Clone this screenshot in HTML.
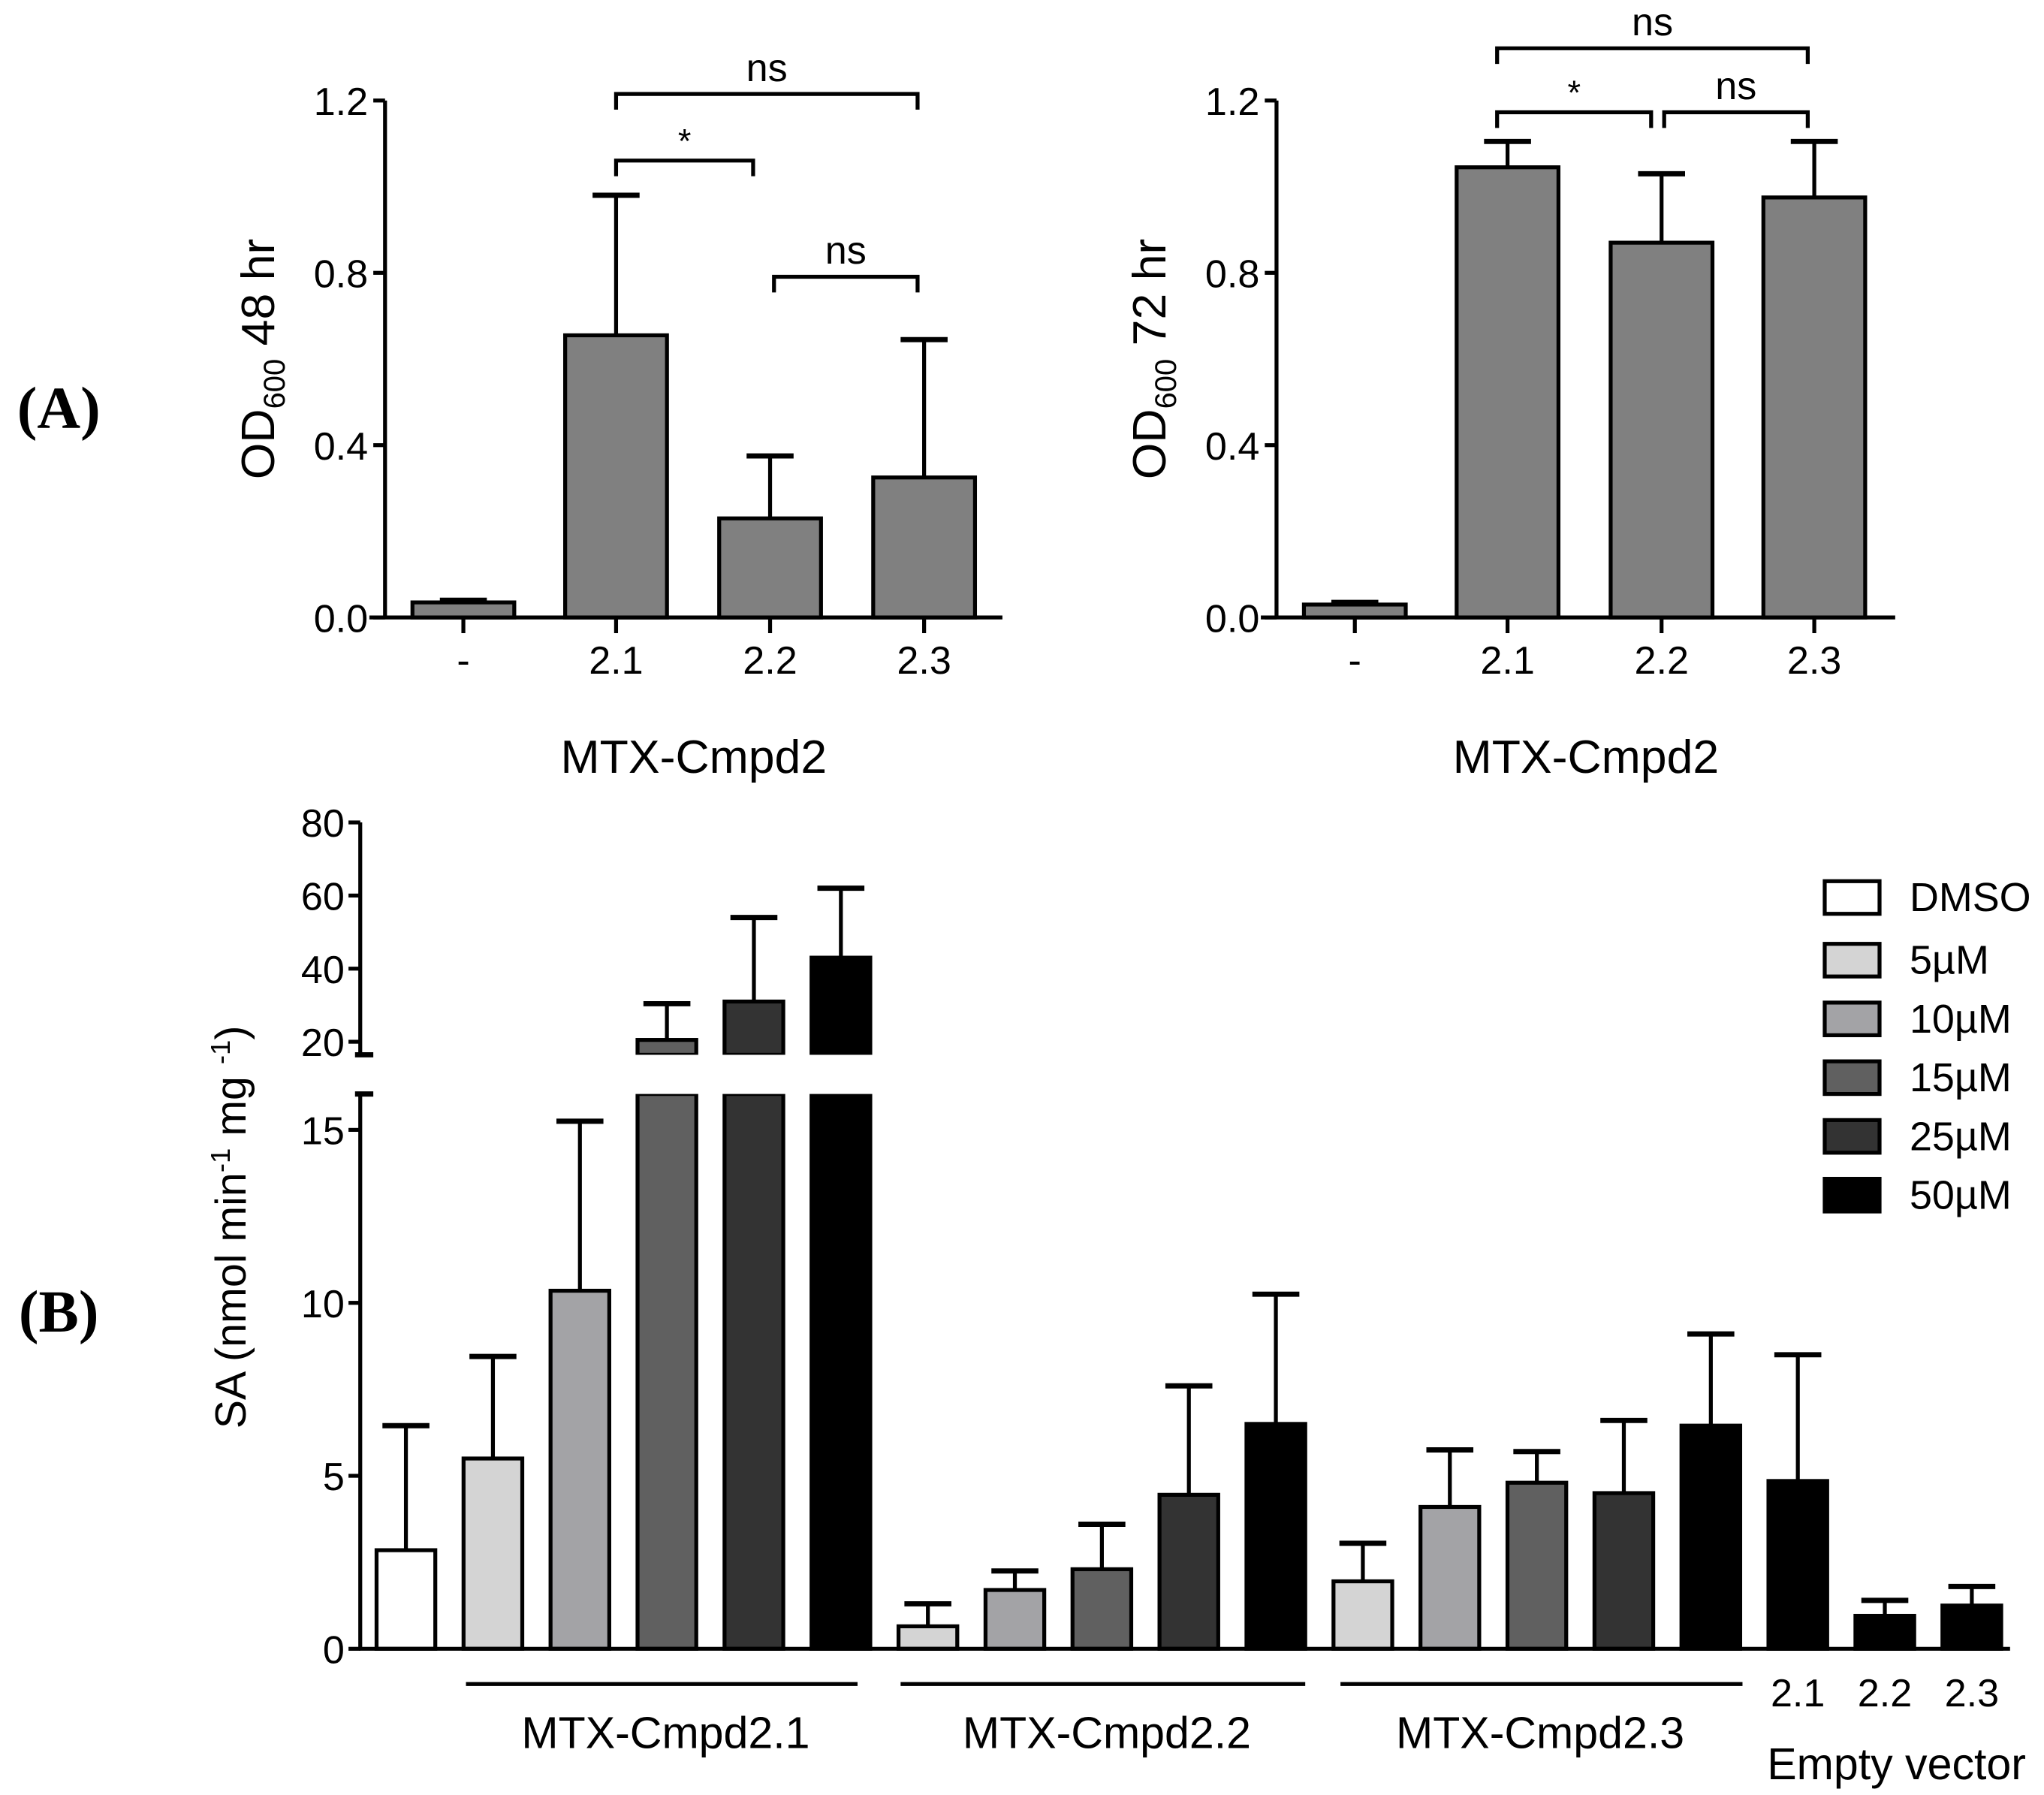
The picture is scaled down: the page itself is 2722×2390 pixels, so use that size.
<!DOCTYPE html>
<html><head><meta charset="utf-8"><style>
html,body{margin:0;padding:0;background:#fff;}
svg{display:block;}
text{font-family:"Liberation Sans",sans-serif;fill:#000;}
</style></head><body>
<svg id="fig" width="2722" height="2390" viewBox="0 0 1566 1375" preserveAspectRatio="none" xmlns="http://www.w3.org/2000/svg">
<g id="A1"></g>
<g id="A2"></g>
<g id="B"></g>
<text x="45" y="328" font-size="46" font-weight="bold" text-anchor="middle" style="font-family:'Liberation Serif',serif">(A)</text>
<text x="45" y="1020" font-size="46" font-weight="bold" text-anchor="middle" style="font-family:'Liberation Serif',serif">(B)</text>
</svg>
<script>
// Panel A data
const aCats = ["-", "2.1", "2.2", "2.3"];
const a48Vals = [0.035, 0.655, 0.23, 0.325];
const a48Errs = [0.04, 0.98, 0.375, 0.645];
const a72Vals = [0.03, 1.045, 0.87, 0.975];
const a72Errs = [0.035, 1.105, 1.03, 1.105];
const aTicks = [0.0, 0.4, 0.8, 1.2];
const aTickLabels = ["0.0", "0.4", "0.8", "1.2"];
// Panel B data
const bCats = ["DMSO","5µM","10µM","15µM","25µM","50µM","5µM","10µM","15µM","25µM","50µM","5µM","10µM","15µM","25µM","50µM","EV2.1","EV2.2","EV2.3"];
const bVals = [2.85,5.5,10.35,20.5,31,43, 0.65,1.7,2.3,4.45,6.5, 1.95,4.1,4.8,4.5,6.45, 4.85,0.95,1.25];
const bErrs = [6.45,8.45,15.25,30.4,54,62, 1.3,2.25,3.6,7.6,10.25, 3.05,5.75,5.7,6.6,9.1, 8.5,1.4,1.8];
const bSeries = [0,1,2,3,4,5, 1,2,3,4,5, 1,2,3,4,5, 5,5,5];
const bLowTicks = [0,5,10,15];
const bHighTicks = [20,40,60,80];
const legendLabels = ["DMSO","5µM","10µM","15µM","25µM","50µM"];
const seriesColors = ["#ffffff","#d4d4d4","#a3a3a6","#606060","#333333","#000000"];

const NS="http://www.w3.org/2000/svg";
function mk(parent, tag, attrs, txt){
  const e=document.createElementNS(NS,tag);
  for(const k in attrs) e.setAttribute(k,attrs[k]);
  if(txt!==undefined) e.textContent=txt;
  parent.appendChild(e); return e;
}
function line(p,x1,y1,x2,y2,w){return mk(p,"line",{x1,y1,x2,y2,stroke:"#000","stroke-width":w||3});}

function panelA(g, axX, xEnd, centers, vals, errs, title, brackets){
  const y0=473, y1=77, vmax=1.2;
  const Y=v=>y0-(v/vmax)*(y0-y1);
  const bw=78;
  vals.forEach((v,i)=>{
    const cx=centers[i];
    const eb=line(g,cx,Y(v),cx,Y(errs[i]),3);
    
    
    const cap=line(g,cx-18,Y(errs[i]),cx+18,Y(errs[i]),4);
    
    
    const r=mk(g,"rect",{x:cx-bw/2,y:Y(v),width:bw,height:y0-Y(v),fill:"#808080",stroke:"#000","stroke-width":3});
    
    
    line(g,cx,y0,cx,y0+12,3);
    const t=mk(g,"text",{x:cx,y:y0+43,"font-size":30,"text-anchor":"middle"},aCats[i]);
    
    
  });
  line(g,axX,y1,axX,y0+1,3);
  line(g,axX-12,y0,xEnd,y0,3);
  aTicks.forEach((v,i)=>{
    line(g,axX-9,Y(v),axX,Y(v),3);
    const t=mk(g,"text",{x:axX-13,y:Y(v)+11,"font-size":30,"text-anchor":"end"},aTickLabels[i]);
    
    
  });
  const tx=axX-85, ty=275;
  const tt=mk(g,"text",{x:tx,y:ty,"font-size":36,"text-anchor":"middle",transform:`rotate(-90 ${tx} ${ty})`});
  tt.innerHTML='OD<tspan font-size="23" dy="8">600</tspan><tspan dy="-8"> '+title+'</tspan>';
  
  
  brackets.forEach(b=>{
    const bg=mk(g,"g",{});
    
    
    mk(bg,"polyline",{points:`${b[0]},${b[2]+12} ${b[0]},${b[2]} ${b[1]},${b[2]} ${b[1]},${b[2]+12}`,fill:"none",stroke:"#000","stroke-width":3});
    mk(bg,"text",{x:(b[0]+b[1])/2,y:b[2]-(b[3]==="*"?6:10),"font-size":b[3]==="*"?26:30,"text-anchor":"middle"},b[3]);
  });
  const xt=mk(g,"text",{x:(axX+xEnd)/2,y:592,"font-size":36,"text-anchor":"middle"},"MTX-Cmpd2");
  
  
}
panelA(document.getElementById("A1"),295,768,[355,472,590,708],a48Vals,a48Errs,"48 hr",
  [[472,703,72,"ns"],[472,577,123,"*"],[593,703,212,"ns"]]);
panelA(document.getElementById("A2"),978,1452,[1038,1155,1273,1390],a72Vals,a72Errs,"72 hr",
  [[1147,1385,37,"ns"],[1147,1265,86,"*"],[1275,1385,86,"ns"]]);

// Panel B
(function(){
  const g=document.getElementById("B");
  const axX=276, y0=1263, lowTop=838, highBot=808;
  const YL=v=>y0-v*26.5;
  const YH=v=>798-(v-20)*2.8;
  const Y=v=>v<=16 ? YL(v) : YH(v);
  const X=i=>311+i*66.65;
  const bw=45;
  bVals.forEach((v,i)=>{
    const cx=X(i), e=bErrs[i];
    const eb=line(g,cx,Y(v),cx,Y(e),3);
    
    
    const cap=line(g,cx-18,Y(e),cx+18,Y(e),4);
    
    
    const fill=seriesColors[bSeries[i]];
    if(v<=16){
      const r=mk(g,"rect",{x:cx-bw/2,y:Y(v),width:bw,height:y0-Y(v),fill,stroke:"#000","stroke-width":3});
      
      
    } else {
      const r1=mk(g,"rect",{x:cx-bw/2,y:lowTop,width:bw,height:y0-lowTop,fill,stroke:"#000","stroke-width":3});
      
      
      const r2=mk(g,"rect",{x:cx-bw/2,y:Y(v),width:bw,height:highBot-Y(v),fill,stroke:"#000","stroke-width":3});
      
      
      mk(g,"rect",{x:cx-bw/2-3,y:highBot,width:bw+6,height:lowTop-highBot,fill:"#fff"});
    }
  });
  line(g,axX,630,axX,highBot,3);
  line(g,axX-4,highBot,axX+10,highBot,4);
  line(g,axX,lowTop,axX,y0+1,3);
  line(g,axX-4,lowTop,axX+10,lowTop,4);
  line(g,axX-1,y0,1540,y0,3);
  bLowTicks.forEach(v=>{
    line(g,axX-9,YL(v),axX,YL(v),3);
    const t=mk(g,"text",{x:axX-12,y:YL(v)+11,"font-size":30,"text-anchor":"end"},String(v));
    
    
  });
  bHighTicks.forEach(v=>{
    line(g,axX-9,YH(v),axX,YH(v),3);
    const t=mk(g,"text",{x:axX-12,y:YH(v)+11,"font-size":30,"text-anchor":"end"},String(v));
    
    
  });
  const tx=188, ty=940;
  const tt=mk(g,"text",{x:tx,y:ty,"font-size":33,"text-anchor":"middle",transform:`rotate(-90 ${tx} ${ty})`});
  tt.innerHTML='SA (nmol min<tspan font-size="21" dy="-12">-1</tspan><tspan dy="12"> mg </tspan><tspan font-size="21" dy="-12">-1</tspan><tspan dy="12">)</tspan>';
  
  
  const groups=[[357,657,510,"MTX-Cmpd2.1"],[690,1000,848,"MTX-Cmpd2.2"],[1027,1335,1180,"MTX-Cmpd2.3"]];
  groups.forEach(gr=>{
    const l=line(g,gr[0],1290,gr[1],1290,3);
    
    
    const t=mk(g,"text",{x:gr[2],y:1339,"font-size":34,"text-anchor":"middle"},gr[3]);
    
    
  });
  ["2.1","2.2","2.3"].forEach((s,k)=>{
    const t=mk(g,"text",{x:X(16+k),y:1307,"font-size":30,"text-anchor":"middle"},s);
    
    
  });
  const ev=mk(g,"text",{x:1453,y:1363,"font-size":34,"text-anchor":"middle"},"Empty vector");
  
  
  const ly=[687,735,780,825,870,915];
  legendLabels.forEach((lab,i)=>{
    const lg=mk(g,"g",{});
    
    
    mk(lg,"rect",{x:1398,y:ly[i]-12,width:42,height:25,fill:seriesColors[i],stroke:"#000","stroke-width":3});
    mk(lg,"text",{x:1463,y:ly[i]+11,"font-size":31},lab);
  });
})();
</script>
</body></html>
